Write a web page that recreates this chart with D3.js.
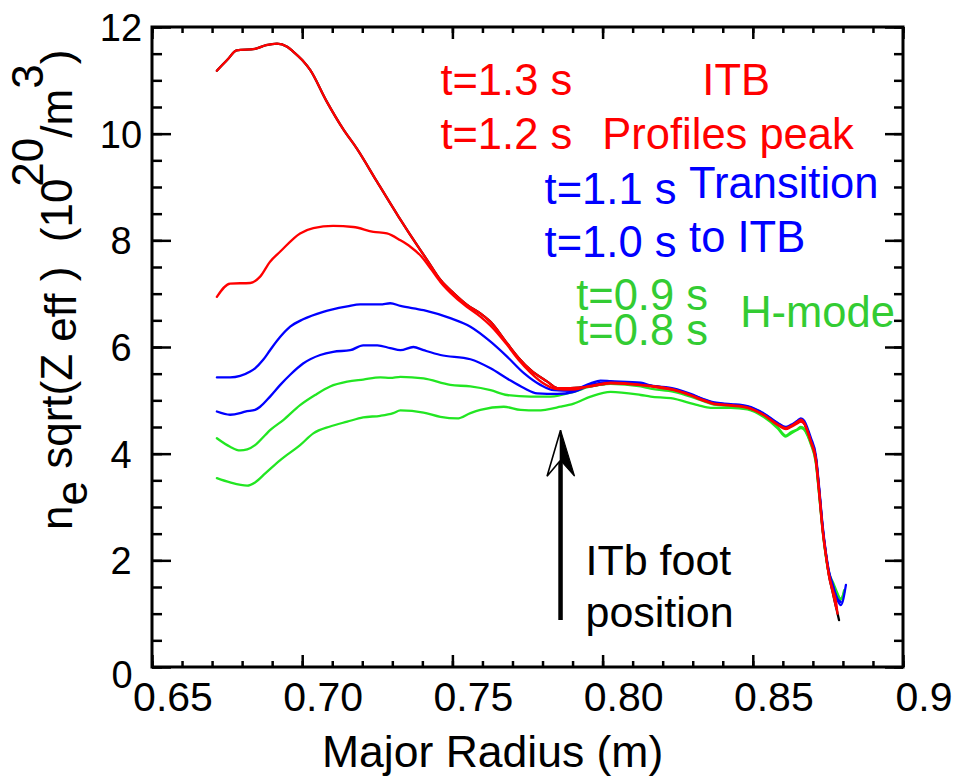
<!DOCTYPE html>
<html>
<head>
<meta charset="utf-8">
<script src="https://cdn.jsdelivr.net/npm/d3@7"></script>
<style>
  html, body { margin: 0; padding: 0; background: #fff; }
  svg { display: block; font-family: "Liberation Sans", Arial, Helvetica, sans-serif; }
</style>
</head>
<body>
<svg id="chart" width="957" height="777"></svg>
<script>
// Density profiles n_e*sqrt(Z_eff) vs major radius, one per time slice: [R (m), value (1e20 m^-3)]
const t13 = [[0.6716,11.18],[0.6750,11.38],[0.6782,11.56],[0.6843,11.59],[0.6880,11.66],[0.6916,11.69],[0.6950,11.63],[0.6970,11.54],[0.7000,11.38],[0.7027,11.19],[0.7080,10.62],[0.7137,10.08],[0.7182,9.72],[0.7249,9.10],[0.7320,8.45],[0.7393,7.82],[0.7416,7.63],[0.7460,7.26],[0.7510,6.98],[0.7549,6.79],[0.7593,6.63],[0.7627,6.47],[0.7682,6.07],[0.7720,5.80],[0.7760,5.57],[0.7816,5.35],[0.7849,5.23],[0.7893,5.23],[0.7960,5.26],[0.8027,5.32],[0.8116,5.29],[0.8160,5.27],[0.8238,5.20],[0.8293,5.10],[0.8338,5.00],[0.8371,4.94],[0.8427,4.91],[0.8482,4.87],[0.8538,4.72],[0.8582,4.55],[0.8610,4.48],[0.8627,4.52],[0.8649,4.60],[0.8660,4.64],[0.8671,4.58],[0.8682,4.42],[0.8693,4.24],[0.8710,3.90],[0.8721,3.30],[0.8732,2.62],[0.8743,2.12],[0.8754,1.70],[0.8766,1.40],[0.8778,1.10],[0.8787,0.88]];
const t12 = [[0.6716,6.94],[0.6760,7.19],[0.6827,7.20],[0.6860,7.32],[0.6893,7.60],[0.6927,7.79],[0.6993,8.13],[0.7037,8.23],[0.7103,8.27],[0.7170,8.25],[0.7237,8.16],[0.7282,8.13],[0.7327,8.00],[0.7360,7.88],[0.7393,7.72],[0.7430,7.45],[0.7460,7.22],[0.7510,6.93],[0.7549,6.75],[0.7593,6.57],[0.7627,6.40],[0.7682,6.04],[0.7720,5.76],[0.7760,5.52],[0.7800,5.33],[0.7849,5.21],[0.7893,5.20],[0.7960,5.27],[0.8027,5.33],[0.8116,5.30],[0.8160,5.26],[0.8238,5.19],[0.8293,5.09],[0.8338,4.99],[0.8371,4.93],[0.8427,4.90],[0.8482,4.86],[0.8538,4.72],[0.8582,4.54],[0.8610,4.46],[0.8627,4.50],[0.8649,4.57],[0.8660,4.60],[0.8671,4.56],[0.8682,4.42],[0.8693,4.22],[0.8710,3.86],[0.8721,3.25],[0.8732,2.58],[0.8743,2.10],[0.8754,1.72],[0.8766,1.45],[0.8778,1.19],[0.8782,1.00]];
const t11 = [[0.6716,5.43],[0.6760,5.43],[0.6827,5.54],[0.6843,5.60],[0.6870,5.76],[0.6893,5.94],[0.6927,6.19],[0.6960,6.38],[0.7003,6.52],[0.7070,6.66],[0.7150,6.76],[0.7193,6.80],[0.7260,6.80],[0.7293,6.82],[0.7327,6.77],[0.7404,6.69],[0.7493,6.54],[0.7560,6.38],[0.7627,6.10],[0.7682,5.82],[0.7738,5.51],[0.7793,5.29],[0.7838,5.19],[0.7893,5.18],[0.7960,5.32],[0.7993,5.37],[0.8027,5.36],[0.8127,5.33],[0.8160,5.28],[0.8238,5.22],[0.8293,5.12],[0.8338,5.02],[0.8371,4.96],[0.8427,4.93],[0.8482,4.89],[0.8538,4.75],[0.8582,4.58],[0.8610,4.50],[0.8627,4.54],[0.8649,4.62],[0.8660,4.66],[0.8671,4.62],[0.8682,4.48],[0.8693,4.30],[0.8710,3.96],[0.8721,3.36],[0.8732,2.68],[0.8743,2.16],[0.8754,1.78],[0.8766,1.55],[0.8782,1.25],[0.8793,1.16],[0.8810,1.54]];
const t10 = [[0.6716,4.79],[0.6760,4.73],[0.6793,4.76],[0.6810,4.79],[0.6843,4.82],[0.6860,4.88],[0.6893,5.07],[0.6927,5.29],[0.6960,5.48],[0.7003,5.69],[0.7060,5.85],[0.7103,5.91],[0.7160,5.94],[0.7203,6.03],[0.7250,6.03],[0.7293,5.98],[0.7327,5.94],[0.7370,6.00],[0.7404,5.94],[0.7460,5.85],[0.7560,5.77],[0.7627,5.60],[0.7682,5.41],[0.7738,5.23],[0.7782,5.13],[0.7849,5.12],[0.7904,5.16],[0.7960,5.29],[0.8016,5.33],[0.8127,5.31],[0.8160,5.27],[0.8238,5.20],[0.8293,5.11],[0.8338,5.01],[0.8371,4.95],[0.8427,4.92],[0.8482,4.88],[0.8538,4.74],[0.8582,4.57],[0.8610,4.49],[0.8627,4.52],[0.8649,4.58],[0.8660,4.61],[0.8671,4.57],[0.8682,4.44],[0.8693,4.26],[0.8710,3.92],[0.8721,3.32],[0.8732,2.64],[0.8743,2.14],[0.8754,1.76],[0.8766,1.52],[0.8782,1.28],[0.8793,1.22]];
const t09 = [[0.6716,4.29],[0.6760,4.13],[0.6793,4.06],[0.6817,4.08],[0.6843,4.16],[0.6877,4.35],[0.6893,4.44],[0.6937,4.63],[0.6993,4.91],[0.7043,5.10],[0.7093,5.26],[0.7150,5.35],[0.7203,5.39],[0.7260,5.43],[0.7293,5.42],[0.7327,5.44],[0.7404,5.41],[0.7493,5.29],[0.7560,5.26],[0.7627,5.19],[0.7682,5.10],[0.7760,5.07],[0.7827,5.07],[0.7904,5.16],[0.7960,5.26],[0.8027,5.31],[0.8127,5.26],[0.8160,5.22],[0.8238,5.16],[0.8293,5.07],[0.8338,4.98],[0.8371,4.92],[0.8427,4.89],[0.8482,4.85],[0.8538,4.70],[0.8582,4.50],[0.8610,4.34],[0.8627,4.40],[0.8649,4.46],[0.8660,4.50],[0.8671,4.47],[0.8682,4.36],[0.8693,4.20],[0.8710,3.84],[0.8721,3.24],[0.8732,2.60],[0.8743,2.10],[0.8754,1.76],[0.8766,1.60],[0.8782,1.38],[0.8793,1.26],[0.8804,1.44]];
const t08 = [[0.6716,3.54],[0.6760,3.46],[0.6817,3.40],[0.6843,3.46],[0.6877,3.63],[0.6927,3.88],[0.6993,4.16],[0.7037,4.38],[0.7093,4.51],[0.7150,4.60],[0.7203,4.68],[0.7260,4.71],[0.7303,4.76],[0.7327,4.81],[0.7404,4.77],[0.7460,4.69],[0.7516,4.66],[0.7560,4.76],[0.7593,4.82],[0.7671,4.88],[0.7727,4.82],[0.7782,4.81],[0.7860,4.88],[0.7904,4.94],[0.7960,5.07],[0.8027,5.16],[0.8127,5.10],[0.8160,5.07],[0.8227,5.04],[0.8317,4.91],[0.8360,4.86],[0.8427,4.86],[0.8482,4.83],[0.8538,4.68],[0.8582,4.48],[0.8610,4.32],[0.8627,4.38],[0.8649,4.45],[0.8660,4.48],[0.8671,4.45],[0.8682,4.34],[0.8693,4.18],[0.8710,3.82],[0.8721,3.22],[0.8732,2.58],[0.8743,2.08],[0.8754,1.72],[0.8766,1.56],[0.8782,1.34],[0.8793,1.28],[0.8804,1.40]];

const seriesNames  = ["t=0.8 s", "t=0.9 s", "t=1.0 s", "t=1.1 s", "t=1.2 s", "t=1.3 s"];
const seriesValues = [t08, t09, t10, t11, t12, t13];
const seriesColors = ["#22e622", "#22e622", "#0000ff", "#0000ff", "#ff0000", "#ff0000"];

// Axis ticks and labels
const xMajorTicks  = [0.65, 0.70, 0.75, 0.80, 0.85, 0.90];
const xTickLabels  = ["0.65", "0.70", "0.75", "0.80", "0.85", "0.9"];
const xMinorTicks  = d3.range(0, 26).map(i => 0.65 + i * 0.01);
const yMajorTicks  = [0, 2, 4, 6, 8, 10, 12];
const yTickLabels  = ["0", "2", "4", "6", "8", "10", "12"];
const yMinorTicks  = d3.range(0, 25).map(i => i * 0.5);

// Phase annotations: [text, R, value, colour]
const noteTexts  = ["t=1.3 s", "ITB", "t=1.2 s", "Profiles peak", "t=1.1 s", "Transition", "t=1.0 s", "to ITB", "t=0.9 s", "t=0.8 s", "H-mode"];
const noteR      = [0.7460, 0.8332, 0.7460, 0.7999, 0.7807, 0.8288, 0.7807, 0.8288, 0.7912, 0.7912, 0.8458];
const noteValue  = [10.725, 10.725, 9.707, 9.707, 8.68, 8.79, 7.69, 7.79, 6.69, 6.04, 6.38];
const noteColors = ["#ff0000", "#ff0000", "#ff0000", "#ff0000", "#0000ff", "#0000ff", "#0000ff", "#0000ff", "#33cc33", "#33cc33", "#33cc33"];

// Arrow marking the ITB foot position
const footR = 0.786, footFrom = 0.88, footTo = 4.44;
const footText = ["ITb foot", "position"];
const footTextR = 0.7943, footTextValue = [1.73, 0.75];

const svg = d3.select("#chart");
const L = 152, R = 903, T = 27, B = 667;

const x = d3.scaleLinear().domain([0.65, 0.90]).range([L, R]);
const y = d3.scaleLinear().domain([0, 12]).range([B, T]);

// Tick marks pointing into the plot on all four sides
function ticks(axisFn, scale, values, size, tx, ty) {
  const g = svg.append("g").attr("transform", `translate(${tx},${ty})`)
    .call(axisFn(scale).tickValues(values).tickSize(-size).tickFormat(""));
  g.select(".domain").remove();
  g.selectAll("line").attr("stroke", "#000").attr("stroke-width", 2.5);
}
ticks(d3.axisBottom, x, xMinorTicks, 6, 0, B);
ticks(d3.axisBottom, x, xMajorTicks, 12, 0, B);
ticks(d3.axisTop, x, xMinorTicks, 6, 0, T);
ticks(d3.axisTop, x, xMajorTicks, 12, 0, T);
ticks(d3.axisLeft, y, yMinorTicks, 10, L, 0);
ticks(d3.axisLeft, y, yMajorTicks, 19, L, 0);
ticks(d3.axisRight, y, yMinorTicks, 9, R, 0);
ticks(d3.axisRight, y, yMajorTicks, 18, R, 0);

// Frame
svg.append("rect")
  .attr("x", L).attr("y", T).attr("width", R - L).attr("height", B - T)
  .attr("fill", "none").attr("stroke", "#000").attr("stroke-width", 3);

// Tick labels
svg.append("g").selectAll("text").data(xMajorTicks).join("text")
  .attr("x", d => x(d) + 21)
  .attr("y", 711)
  .attr("text-anchor", "middle")
  .attr("font-size", 41)
  .text((d, i) => xTickLabels[i]);

svg.append("g").selectAll("text").data(yMajorTicks).join("text")
  .attr("x", d => d === 0 ? 122 : 121)
  .attr("y", d => y(d) + (d === 0 ? 21 : 14))
  .attr("text-anchor", "middle")
  .attr("font-size", 38)
  .text((d, i) => yTickLabels[i]);

// Axis titles
svg.append("text")
  .attr("x", 322).attr("y", 767)
  .attr("font-size", 44.5)
  .text("Major Radius (m)");

const yt = svg.append("text")
  .attr("transform", "translate(72,530) rotate(-90)")
  .attr("font-size", 44)
  .style("white-space", "pre");
yt.append("tspan").text("n");
yt.append("tspan").attr("dy", 15).text("e");
yt.append("tspan").attr("dy", -15).text(" sqrt(Z");
yt.append("tspan").attr("dy", 4).text(" eff");
yt.append("tspan").attr("dy", -4).text(" )  (10");
yt.append("tspan").attr("dy", -29).attr("dx", -8).text("20");
yt.append("tspan").attr("dy", 29).text("/m");
yt.append("tspan").attr("dy", -29).text("3");
yt.append("tspan").attr("dy", 29).text(")");

// Profiles
const line = d3.line().x(d => x(d[0])).y(d => y(d[1])).curve(d3.curveMonotoneX);
const plot = svg.append("g").attr("fill", "none").attr("stroke-width", 2.3)
  .attr("stroke-linejoin", "round").attr("stroke-linecap", "round");

// The last segment of the t=1.3 s profile is drawn in black beneath the red trace
plot.append("path").attr("d", line(t13)).attr("stroke", "#000");
seriesValues.forEach((s, i) => {
  const pts = i === seriesValues.length - 1 ? s.slice(0, -1) : s;
  plot.append("path").attr("d", line(pts)).attr("stroke", seriesColors[i])
    .attr("data-name", seriesNames[i]);
});

// Annotations
svg.append("g").selectAll("text").data(noteTexts).join("text")
  .attr("x", (d, i) => x(noteR[i]))
  .attr("y", (d, i) => y(noteValue[i]))
  .attr("font-size", 43.5)
  .attr("fill", (d, i) => noteColors[i])
  .text(d => d);

// ITB foot arrow
const ax = x(footR), ay0 = y(footFrom), ay1 = y(footTo);
svg.append("line")
  .attr("x1", ax).attr("x2", ax).attr("y1", ay0).attr("y2", ay1 + 20)
  .attr("stroke", "#000").attr("stroke-width", 4.5);
svg.append("path")
  .attr("d", `M${ax},${ay1} L${ax - 13.5},${ay1 + 46} L${ax},${ay1 + 30} Z`)
  .attr("fill", "#fff").attr("stroke", "#000").attr("stroke-width", 1.6).attr("stroke-linejoin", "miter");
svg.append("path")
  .attr("d", `M${ax},${ay1} L${ax + 14},${ay1 + 46} L${ax},${ay1 + 30} Z`)
  .attr("fill", "#000").attr("stroke", "#000").attr("stroke-width", 1.2);

svg.append("g").selectAll("text").data(footText).join("text")
  .attr("x", x(footTextR))
  .attr("y", (d, i) => y(footTextValue[i]))
  .attr("font-size", 43)
  .attr("fill", "#000")
  .text(d => d);
</script>
</body>
</html>
